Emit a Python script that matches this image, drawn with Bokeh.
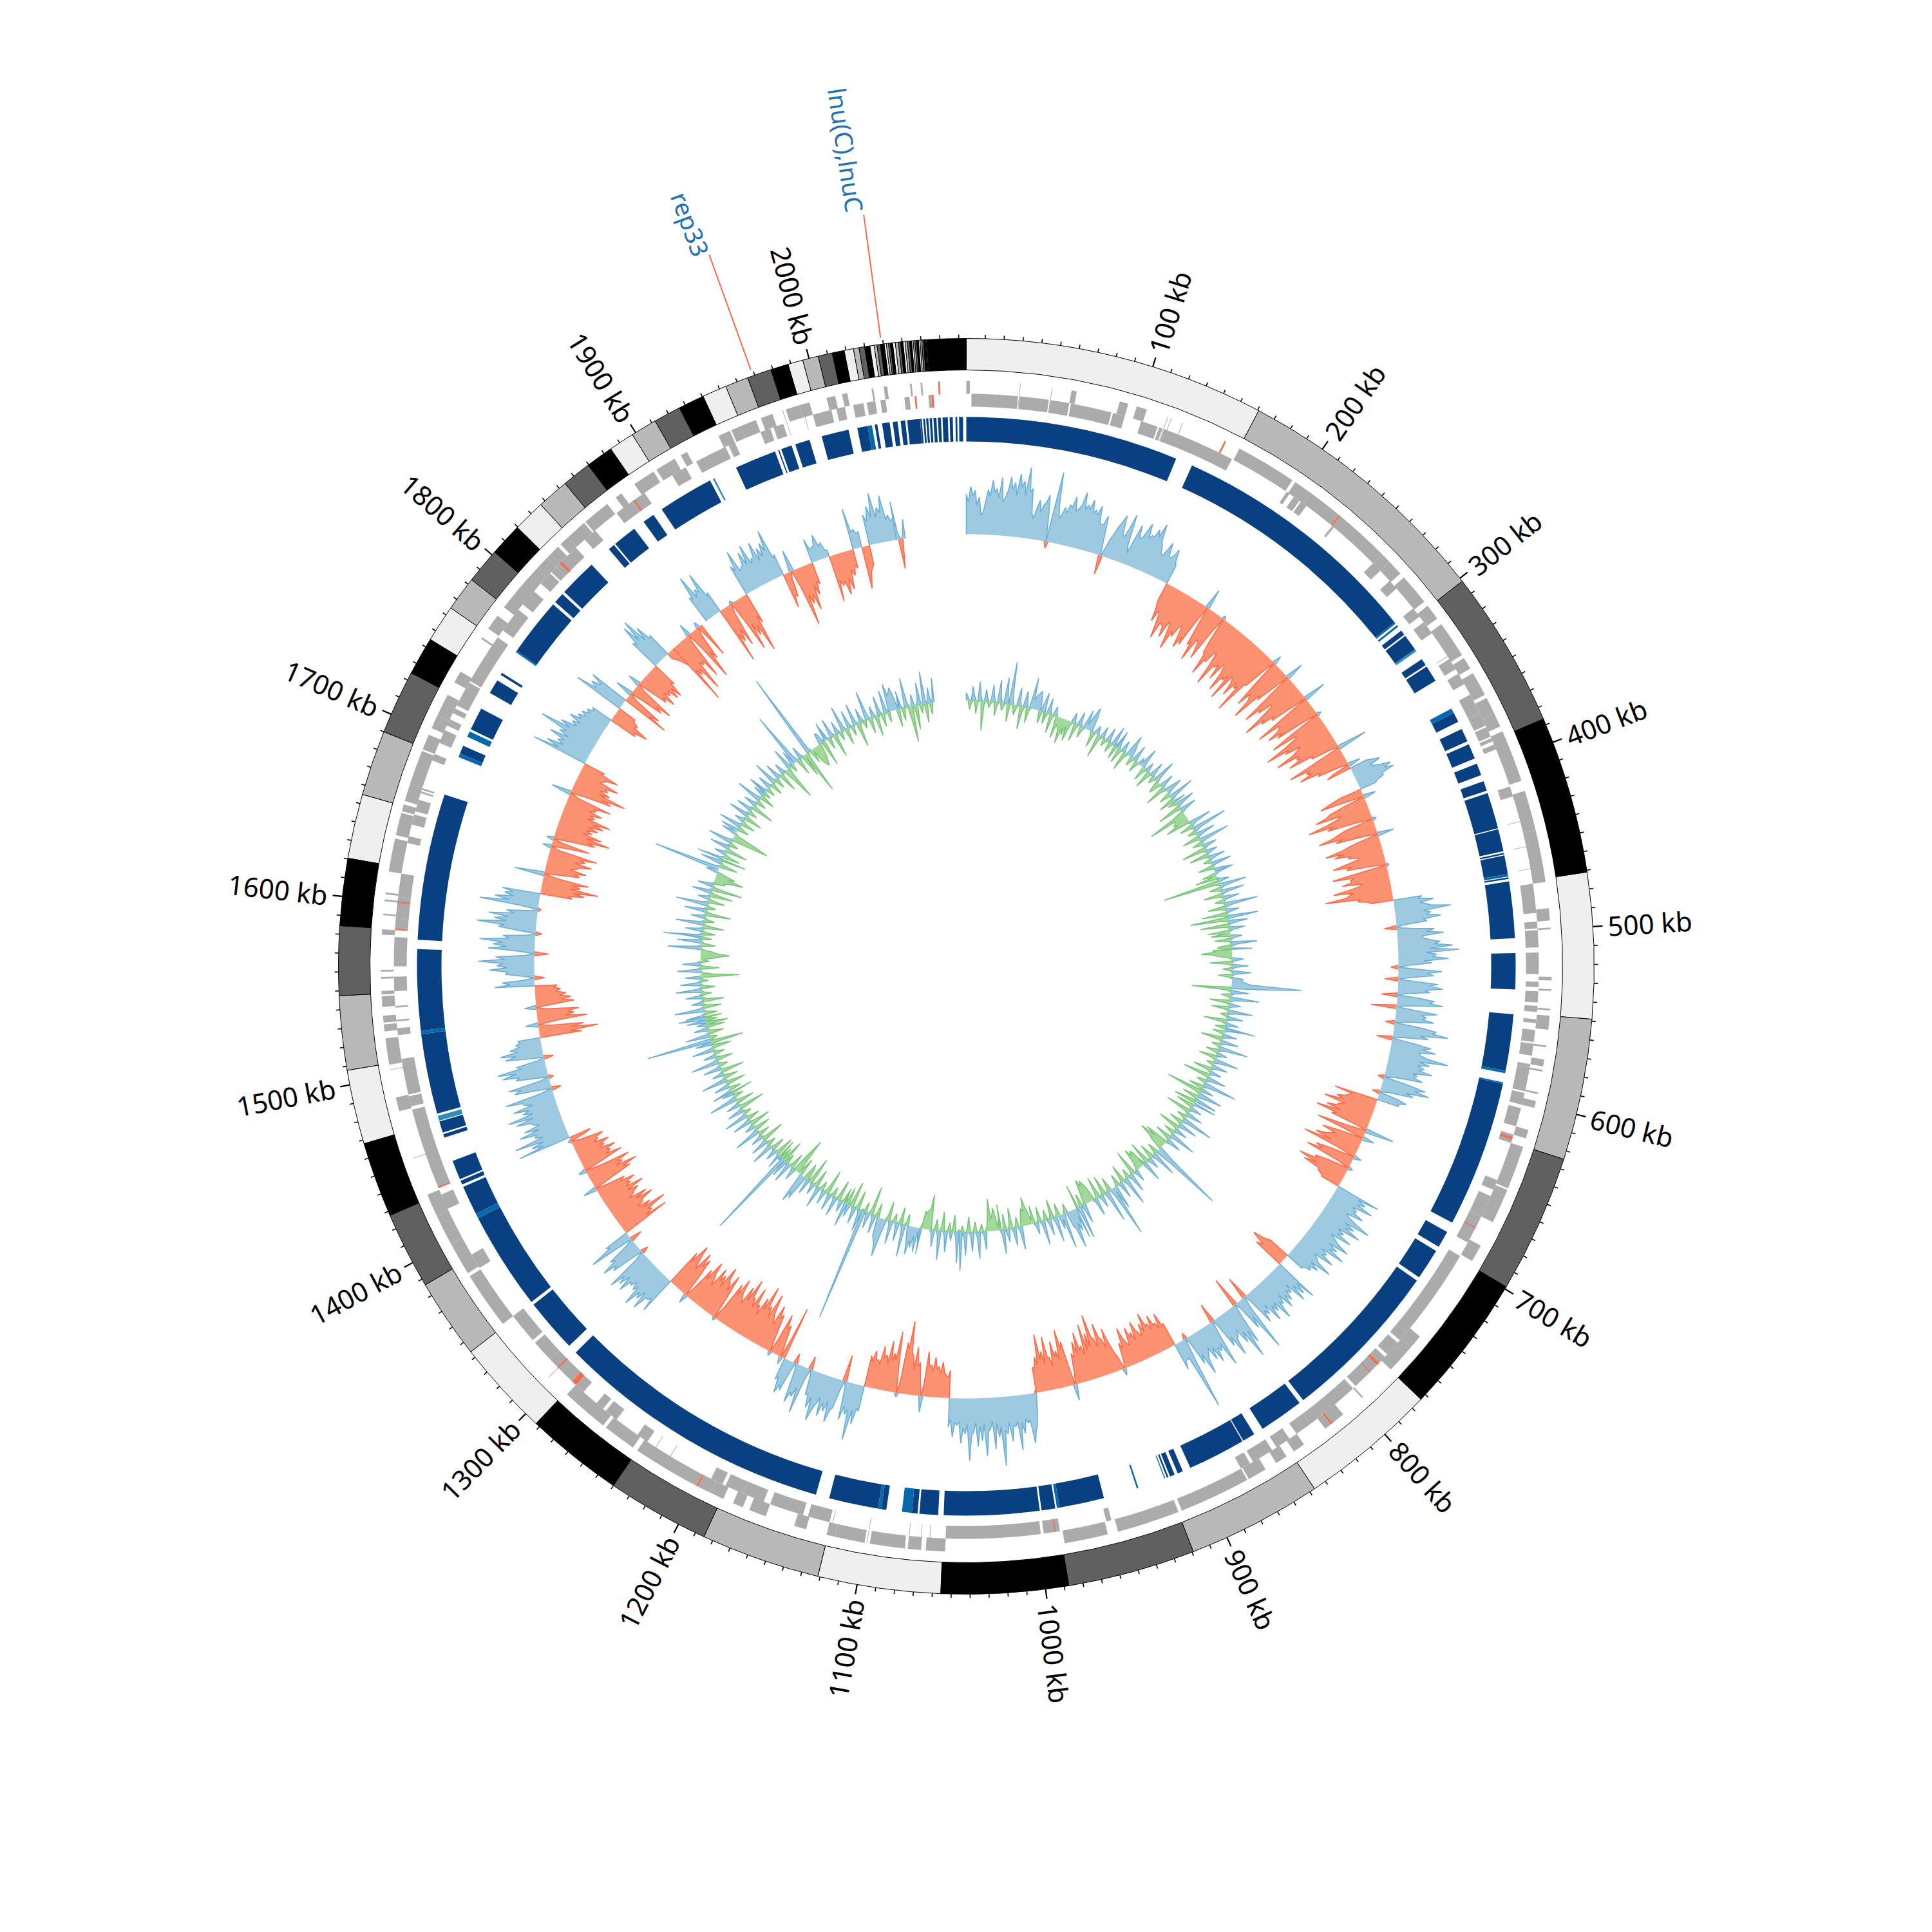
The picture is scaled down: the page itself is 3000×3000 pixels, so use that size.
import numpy as np
from bokeh.plotting import figure
from bokeh.embed import file_html
from bokeh.resources import INLINE
from bokeh.core.properties import value

GENOME_KB = 2084
tick_major_kb = list(range(100, 2001, 100))
tick_minor_kb = [k for k in range(10, 2081, 10) if k % 100]
tick_labels = [f"{k} kb" for k in tick_major_kb]

contig_ends = [160.7,302,386.7,471,549,624.6,698.7,773.4,847,919.3,987.6,1055.5,1121.2,1185,1240,1292.4,1343.7,1386.5,1427.7,1468,
 1507.8,1547.5,1584.5,1620.4,1655,1690,1724.3,1744.6,1764.5,1783,1802,1819.7,1837,1854,1869.6,1884.3,1898,1912,1926.6,1940.5,
 1953.6,1966,1979,1988.5,1996.6,2005,2012.6,2019,2024,2027,2030,2032.8,2035.1,2036.6,2038.4,2040.4,2041.6,2042.7,2043.7,2044.9,
 2046.4,2048,2049.2,2050.4,2051.6,2052.8,2054,2055,2055.9,2056.8,2057.7,2058.6,2059.5,2060.4,2061.4,2062.0,2062.4,2062.7,2063.2,2084]
contig_palette = ["#efefef", "#b9b9b9", "#606060", "#000000"]

cds_dark = [(0,130),(140.4,296.5),(303,306),(307,317),(324.2,328.5),(329.5,339.6),(362,368),(372.8,381),(383,392.3),(395.6,403),(407,413),
 (414.6,436.7),(437.3,451),(452,453),(453.6,465),(467,468),(469.5,504),(513,535),(550,584.5),(592.5,682),(688.4,698.7),(701.7,720.7),
 (723,823),(825.8,853),(859,866.7),(867.3,902.7),(907.6,911),(913,916),(917,918),(958,985.4),(988,996.4),(997.5,1055.7),(1059,1070.4),
 (1071.5,1075),(1090.5,1093.7),(1095.6,1125.7),(1134,1304.4),(1310,1343),(1345,1405),(1408,1426),(1427.5,1430),(1431,1442.9),(1457.8,1460),
 (1461,1468),(1473,1522),(1524,1573.4),(1579,1668.5),(1695,1700),(1711,1725),(1735.8,1744.6),(1748.5,1750),(1766,1801.6),(1803.5,1810),
 (1811.6,1835),(1849,1853),(1854,1868.7),(1875.7,1883),(1889,1923),(1940.5,1966),(1968,1968.7),(1970,1976.6),(1979,1988),(1995.6,2012.3),
 (2017.7,2024),(2028.4,2030),(2032.9,2037.5),(2039.4,2042.3),(2044.2,2047),(2048.2,2056),(2056.1,2057),(2057.9,2059),(2059.7,2061),(2061.8,2063.2),
 (2064.1,2065.9),(2066.8,2068.6),(2069.6,2072.8),(2073.9,2075.8),(2077.4,2078.5),(2079.6,2082)]
cds_mid = [(296.5,297.5),(298.8,300),(359,362),(465,466.5),(584.5,586),(591.6,592.5),(936.3,937.3),(985.4,987),(1075,1081),(1093.7,1095.6),
 (1405,1408),(1522,1524),(1692.7,1695),(1706,1709.5),(1765,1766),(2024,2026.7)]
cds_light = [(317,318.4),(919,919.7),(1468.5,1471.5),(1925,1926)]

genes_inner = [(3,30),(31,48),(49,60),(61,85),(86,93),(103,113),(114,116),(117,160),(197,199),(202,206),(207,211),(230,231),(262,268),(276,282),
 (297,303),(307,315),(333,340),(343,350),(357,369),(369,377),(378,384),(385,387),(389,392),(415,421),(473,490),(495,499),(500,510),(513,525.5),
 (530,533),(535.5,542),(544,547.5),(551.7,554),(558,565),(566,573),(578,580),(580,594),(595,602),(604,615),(620,625),(648,654),(658,671),(671,688),
 (697,751),(751,757),(759,768),(770,794),(796,813),(813,819),(819,828),(828,838),(843,852),(855,868),(870,876),(957,960),(987.5,997),(998.7,1054),
 (1122,1135),(1138,1158),(1162,1175),(1175,1186),(1188,1195),(1238,1245),(1260,1268),(1270,1275),(1285,1291),(1294,1302),(1302,1312),(1312,1325),
 (1327,1338),(1337,1345),(1379,1388),(1418,1427),(1431,1479),(1481,1487),(1488,1509),(1523,1527),(1531,1532),(1539,1540),(1548.6,1557),(1563,1580),
 (1584.6,1591),(1591,1603),(1603,1617),(1635,1639),(1646,1652),(1654,1661),(1665,1666),(1667,1668),(1685,1689),(1696,1704),(1707,1711),(1715,1718),
 (1720,1735),(1736,1766),(1771,1786),(1790,1800),(1806,1814),(1815,1819),(1819,1835),(1842,1850),(1866,1877),(1877,1886),(1905,1914),(1921,1940),
 (1942,1946),(1962,1968),(1970,1976),(1994,2005),(2008,2013),(2018,2024),(2026,2031),(2034,2037),(2048,2051),(2062,2063.7)]
genes_outer = [(0,2),(60,63),(88,93),(98,104),(161,196),(198,209),(209,229),(230,262),(262,268),(268,277),(280,298),(301,310),(314,335),(337,344),
 (347,361),(363,373),(373,381),(384,414),(420,443),(443,473),(488,495),(499,500),(527,529),(534,535),(545,546),(549,557),(566,567),(574,578),(580,581),
 (593,594),(598,602),(615,620),(625,650),(651,671),(686,696),(748,756),(756,762),(762,773),(795,796),(810,818),(816,823),(838,845),(850,857),(864,875),
 (876,917),(919,955),(961,986),(1054,1065),(1067.7,1075),(1077,1097),(1100,1117),(1117,1122),(1134,1141),(1158,1168),(1172,1178),(1184,1192),(1192,1200),
 (1201,1240),(1243,1262),(1264,1276),(1274,1291),(1345,1378),(1380,1399),(1399,1410),(1408,1417),(1417,1425),(1424,1430),(1480,1488),(1507,1522),(1526,1530),
 (1531,1535),(1540,1546),(1547,1549),(1556,1557),(1560,1561),(1581,1584),(1592,1593),(1600,1601),(1604,1605),(1617,1636),(1638,1647),(1646,1651),(1652,1656),
 (1658,1668),(1668,1671),(1670,1688),(1689,1698),(1702,1710),(1710,1718),(1717,1723),(1731,1738),(1760,1761),(1767,1776),(1782,1796),(1793,1803),(1800,1811),
 (1811,1819),(1819,1822),(1822,1828),(1830,1836),(1836,1848),(1849,1865),(1871,1875),(1884,1897),(1899,1908),(1908,1911),(1915,1919),(1939,1946),(1947,1953),
 (1953,1962),(1965,1972),(1980,1988),(1988,1994),(2004,2009),(2013,2016),(2030,2031),(2037,2039),(2052,2053),(2058,2059)]
genes_span = [30.5,48.7,116.5,118.5,125.5,231,331,436,451,464,1063,1068,1075,1098.5,1120,1195,1222,1232,1305,1452,1504,1760,1978,1989]
red_inner = [(621.5,623),(678,678.6),(775,776.5),(782,782.5),(990,990.6),(1291,1294),(1305,1305.8),(1431,1431.8),(1584,1584.8),(1600,1600.8),(1822,1823.5),(1878,1879),(2054,2055),(2063.7,2065)]
red_outer = [(151.5,152.5),(229,230),(818,819),(1200,1201),(2068,2069)]

outer_starts = [0,160,363,381,470,625,698,764,773,875,988,1055,1121,1186,1292,1342.5,1428,1508,1548,1619,1725,1764,1775,1783,1818,1831,1837,1870,1883,1907,1939,1963,1977,1996,2003,2009,2030]
outer_ends = [160,363,381,470,625,698,764,773,875,988,1055,1121,1186,1292,1342.5,1428,1508,1548,1619,1725,1764,1775,1783,1818,1831,1837,1865,1883,1907,1939,1963,1977,1996,2003,2009,2030,2037]
outer_values = [
 [62,50,74,60,68,45,58,30,35,52,70,60,85,66,72,58,90,52,60,70,92,72,84,64,98,78,88,66,110,72,78,40,32,48,62,44,55,60,72,40,-10,55,111,60,40,46,58,50,64,60,78,56,60,66,88,62,70,64,80,60,66,58,74,50,45,48,62,30,-30,10,28,38,52,60,72,42,40,55,78,30,18,44,66,46,48,60,74,52,58,56,70,60,82,56,50,38,35,46,60,40,38,44,55,36,30],
 [-30,-42,-62,-44,-48,-66,-85,-58,-60,-62,-78,-50,-55,-70,-92,-60,-68,-50,-45,-60,-80,-60,-72,-30,32,-35,-65,-58,-88,-50,-52,-62,-78,-25,6,-40,-60,-62,-95,-68,-70,-52,-48,-70,-102,-66,-68,-60,-85,-55,-58,-70,-98,-70,-75,-64,-105,-60,-64,-70,-90,-62,-72,-66,-110,-56,-55,-20,14,-48,-84,-60,-66,-72,-100,-52,-58,-30,29,-50,-92,-65,-70,-48,-48,-74,-105,-70,-78,-56,-62,-30,36,-55,-95,-58,-60,-66,-85,-60,-72,-25,7,-58,-88,-46,-50,-72,-106,-68,-76,-50,-58,-68,-98,-60,-66,-60,-82,-42,-45,-10,47,-50,-90,-58,-64,-56,-78,-44,-50,-15,20,-30,-40],
 [28,38,48,30,35,46,60,48,62,40,42,30,25],
 [-35,-55,-70,-30,20,-38,-60,-66,-85,-44,-50,-70,-101,-60,-72,-30,6,-45,-58,-68,-92,-54,-66,-20,26,-30,-48,-62,-88,-60,-75,-50,-55,-40,-40,-64,-82,-52,-62,-20,4,-50,-87,-52,-60,-58,-74,-42,-48,-66,-90,-58,-66,-72,-105,-50,-55,-40,-35],
 [45,38,62,40,50,58,87,44,55,48,70,42,48,10,-19,22,58,46,72,38,40,50,66,56,85,50,95,44,60,52,78,40,52,18,-12,30,68,44,55,20,-21,28,62,48,70,42,50,15,-25,35,58,50,72,18,-40,32,64,40,48,42,60,20,-15,40,66,60,85,42,55,12,-25,36,62,48,70,44,48,60,92,48,65,46,58,50,72,42,50,44,60,15,-10,42,68,52,75,40,52,12,-12,30,45,33,35],
 [-69,-40,-45,-50,-62,-50,-80,-45,-55,-56,-72,-48,-87,-52,-60,-20,45,-30,-78,-35,19,-40,-65,-42,-50,-56,-71,-44,-88,-30,12,-40,-62,-50,-75,-20,7,-36,-55,-50,-79,-48,-68,-40,-40,-32,-30],
 [71,38,52,40,68,36,45,42,60,34,40,55,80,40,58,44,72,36,48,40,65,32,42,50,70,38,55,44,72,34,46,40,62,30,38,42,68,34,50,36,42,30,30],
 [-35,-45,-63,-40,-50],
 [71,40,58,38,65,30,44,36,52,40,60,34,48,42,69,36,50,38,62,30,45,36,55,10,-36,20,92,32,50,10,-48,22,66,44,88,40,58,32,42,44,70,36,50,10,-31,30,74,36,46,38,60,34,52,30,38,44,69,34,48,10,-10,40,115,28,30,30,43],
 [-38,-36,-58,-35,-45,-42,-60,-38,-50,-46,-69,-40,-55,-36,-42,-48,-63,-34,-48,-40,-58,-30,-35,-44,-62,-30,-40,-10,11,-20,-30,-46,-70,-40,-55,-58,-82,-46,-60,-64,-100,-50,-72,-46,-88,-40,-55,-50,-78,-48,-65,-40,-48,-15,25,-30,-70,-60,-90,-44,-58,-50,-74,-36,-50,-52,-84,-42,-62,-50,-90,-42,-55,-38,-40],
 [-6,30,50,60,77,40,45,38,60,42,85,40,48,46,70,40,58,52,107,46,62,40,80,36,48,52,90,40,66,44,75,38,52,58,97,40,55,46,70,36,42,38,60,32,45],
 [-43,-32,-35,-40,-55,-38,-48,-44,-62,-40,-50,-46,-70,-20,25,-25,-52,-46,-75,-40,-60,-66,-114,-70,-80,-20,7,-40,-95,-50,-60,-48,-78,-42,-55,-50,-68,-38,-45,-44,-58,-40,-49],
 [40,36,62,40,89,42,50,38,60,10,-41,15,45,50,70,38,55,42,64,36,48,58,76,40,58,36,40,10,-21,20,74,34,50,44,62,10,-16,18,48,40,55,30,35],
 [-84,-30,12,-25,-50,-42,-65,-20,7,-30,-60,-52,-72,-40,-48,-58,-85,-44,-62,-56,-92,-52,-70,-40,-55,-50,-80,-46,-60,-58,-88,-50,-72,-42,-50,-56,-78,-48,-66,-20,5,-44,-73,-46,-58,-60,-80,-44,-62,-50,-70,-36,-48,-55,-73,-40,-55,-15,15,-40,-65,-50,-72,-40,-50,-62,-77,-44,-60],
 [61,40,45,44,68,40,55,46,72,42,50,38,48,44,64,40,58,46,70,15,-12,20,52,44,66,40,48,12,-19,30,71,34,40],
 [-77,-42,-55,-50,-83,-46,-60,-38,-50,-52,-72,-44,-65,-36,-45,-48,-58,-40,-70,-42,-52,-46,-62,-38,-48,-20,21,-30,-66,-54,-79,-46,-58,-50,-72,-25,12,-35,-66,-40,-50,-44,-60,-36,-45,-40,-55,-32,-40,-38,-51,-15,5,-25,-35],
 [84,42,60,40,85,38,50,46,72,40,62,36,45,48,70,42,81,40,55,44,68,36,48,50,76,20,-15,25,58,46,66,15,-8,24,50,44,70,48,76,38,45,10,-15,30,60,42,66,38,50,34,40,32,35],
 [-66,-48,-92,-50,-70,-20,20,-30,-78,-44,-58,-48,-66,-15,18,-30,-60,-40,-55,-38,-48,-32,-40,-30,-35],
 [62,38,50,15,-16,20,45,40,70,42,58,48,87,46,60,15,-22,25,72,44,65,50,86,40,50,10,-10,28,58,50,92,46,66,44,75,36,48,12,-5,30,92,46,70,40,55,42,60],
 [-50,-42,-68,-50,-89,-44,-60,-48,-72,-20,47,-25,-55,-46,-64,-38,-48,-50,-70,-42,-58,-50,-75,-15,14,-25,-60,-15,11,-30,-65,-52,-87,-48,-72,-40,-55,-44,-62,-46,-69,-52,-78,-40,-50,-42,-60,-38,-48,-44,-70,-15,31,-25,-66,-50,-86,-42,-58,-40,-52,-46,-67,-34,-40,-42,-60,-30,-35],
 [89,48,70,44,55,46,72,42,60,50,96,48,65,40,50,38,58,40,48,36,45,34,40,30,35],
 [-45,-40,-62,-36,-40,-30,-30],
 [81,48,60,44,65],
 [-76,-44,-60,-15,28,-20,-55,-44,-68,-15,20,-25,-50,-42,-62,-38,-48,-40,-58,-42,-60,-34,-40],
 [50,44,75,46,81,40,62,36,40],
 [-10,-20,-35],
 [-103,-48,-60,-50,-90,-42,-50,-44,-75,-15,20,-30,-85,-40,-55,-15,10,-25,-56],
 [45,40,77,38,50,44,73,30,35],
 [-91,-46,-60,-40,-70,-15,5,-35,-85,-44,-65,-50,-95,-36,-50],
 [50,40,71,36,40,42,62,40,70,38,45,44,68,36,55,40,60,46,78,30,35],
 [-55,-36,-40,-10,34,-30,-92,-44,-60,-46,-72,-34,-50,-30,-35],
 [38,20,22,24,40,20,25,12,10],
 [-73,-40,-50,-44,-66,-42,-60,-30,-40,-25,-30],
 [65,26,30,22,25],
 [-66,-40,-30],
 [48,36,60,42,79,40,55,46,72,34,40,30,35],
 [60,10,-46,5,30],
]

inner_starts = [0,100,200,300,400,500,600,700,800,900,1000,1100,1200,1300,1400,1500,1600,1700,1800,1900,2000]
inner_ends = [100,200,300,400,500,600,700,800,900,1000,1100,1200,1300,1400,1500,1600,1700,1800,1900,2000,2044]
inner_values = [
 [12,6,-14,-5,22,8,-20,-4,30,6,-46,-6,18,5,-10,-4,26,8,-22,-6,35,10,-12,-5,40,12,-28,66,14,-6,-16,-5,28,6,-36,-8,25,10,-24,-5,48,14,22,26,30,18,-20,15,30,-18],
 [-18,-5,24,6,-30,-6,14,5,-35,-12,-16,-22,-40,-14,-25,-10,-32,-6,16,5,-28,-6,22,6,-18,-5,30,8,24,38,25,-6,-24,6,14,5,-36,-6,18,4,-12,-4,22,6,-16,-5,30,6,-22,26],
 [28,8,-24,-5,18,6,-30,-6,35,20,14,-14,-5,26,6,-18,-4,12,5,32,8,-22,-5,15,4,-28,-6,24,6,-12,-4,36,8,-16,-20,-5,22,6,-34,-6,14,28,6,-18,-5,40,8,-26,-6,18],
 [-14,-5,30,6,-38,-6,26,6,-20,-62,-18,-20,-25,-18,-40,-6,35,8,-22,-5,55,10,-14,-4,30,6,-28,-5,48,8,-16,-4,22,6,-38,-6,18,5,-30,-5,26,6,-12,-4,32,6,-24,-5,16,28],
 [30,6,-22,-6,-35,5,18,-89,-10,42,8,-18,-5,36,6,-30,-6,25,5,-15,-4,52,10,-28,-5,20,5,-40,-6,48,-59,-12,30,6,-45,-6,24,5,-35,-8,-30,18,5,-26,-5,40,8,-20,-22,32],
 [-30,-25,-48,-28,-22,-6,18,5,-35,-6,25,5,-15,-4,30,6,-22,-5,18,14,20,30,109,60,-61,-8,28,6,-15,-4,45,8,-32,-6,18,5,-28,-5,38,8,-12,-4,25,5,-36,-6,20,5,-16,48],
 [32,6,-18,-4,22,5,-34,-6,28,6,-14,-4,45,8,-20,-5,16,4,-28,-5,38,8,-12,-4,24,5,-30,-6,18,4,-42,-6,30,6,-16,-4,52,10,-24,-5,20,-57,-8,38,14,-26,-5,34,-20,-35],
 [36,6,-28,-5,18,4,-40,-6,26,5,-15,-4,50,8,-22,-5,30,6,-34,-6,20,5,-18,-4,42,8,-26,-5,24,5,-38,-20,-45,-28,-20,28,115,30,-18,-5,40,8,-24,-5,18,4,-35,-6,32,-14],
 [-25,-30,-22,-35,-14,-5,18,4,-40,-6,30,6,-15,-4,45,8,-28,-5,26,5,-18,-4,38,8,81,12,-22,-5,50,8,-30,-6,20,5,-34,-6,28,5,-22,-30,-36,-28,-40,-22,30,6,-20,52,8,-38],
 [48,12,35,22,60,30,22,-15,-4,55,8,22,-20,-5,40,8,-30,-6,26,5,-16,-4,38,6,-24,-5,18,4,-28,-6,-18,-30,-44,-22,-28,-16,36,6,-16,-4,28,6,-32,-6,20,5,-24,38,6,-40],
 [-18,-5,-22,-35,-25,-18,-50,-20,-6,28,5,-12,-4,42,8,-16,-4,30,6,-24,-5,36,6,-10,60,-4,48,8,-26,-5,14,-14,-4,32,6,-30,-6,45,8,-18,-4,26,5,-55,-32,-30,-24,-28,-6,40],
 [26,6,38,14,32,22,44,18,-18,-4,50,8,-26,-5,28,5,-14,-4,36,6,-30,-6,22,60,42,35,30,-22,-5,28,5,-45,-6,24,5,-16,177,-4,34,6,-30,-5,26,5,-40,-6,20,-28,38,-18],
 [-24,-5,18,4,-32,-6,30,5,-16,-4,26,5,-38,-6,22,4,-14,-3,34,6,-28,-5,18,4,-42,-6,24,-20,-26,40,30,48,-28,-5,-18,-58,-34,20,5,-24,-5,32,6,-16,28,-36,143,-20,6,-30],
 [24,5,-30,-6,18,4,-22,-5,35,6,-14,-4,28,5,-36,-6,20,4,-18,-4,42,8,-26,-5,16,4,-32,-6,30,5,-20,-4,38,6,-12,-3,26,5,-40,-6,22,4,-28,-5,45,8,-16,-4,18,-34],
 [32,6,-18,-4,24,5,-30,-6,40,6,-22,-5,18,4,-36,-6,28,5,-14,-4,44,8,-26,-5,20,4,-16,-4,34,6,-30,-5,26,-51,102,-6,-12,38,6,-24,-5,22,4,-28,16,-34,30,-18,42,-26],
 [30,5,-20,-4,46,8,-28,-5,18,4,-34,-6,26,5,-16,-4,40,6,-22,-5,32,6,-12,-3,24,-60,-18,-4,36,6,-30,-5,28,5,-14,-4,-20,-30,-45,-25,-18,-4,52,6,-22,-5,38,6,-16,30],
 [60,8,-20,-4,28,5,-32,-6,44,6,-16,-4,22,4,-40,-6,34,5,-14,-3,50,8,-26,-5,18,4,-36,-6,30,5,-48,-6,24,4,-18,-15,-25,-45,-20,-30,-14,20,5,105,8,-28,-5,34,5,-38],
 [42,6,-26,-5,18,4,-34,-6,30,5,-14,-4,38,6,-30,-59,-40,-6,24,5,28,-18,-4,36,5,-22,-5,16,4,-28,-5,32,5,-14,-3,26,4,-36,-6,20,4,-16,-4,40,6,-24,-5,18,-12,30],
 [30,5,-14,-3,22,4,-20,-4,38,6,-16,-3,26,5,-30,-5,18,4,-22,-54,-12,34,5,-12,24,4,87,10,-26,-5,20,4,-36,-6,-68,-8,137,6,-22,-4,-24,-30,-35,-28,-20,18,16,-40,6,30],
 [24,4,-18,-3,30,5,-36,-6,20,4,-14,-3,40,6,-26,-5,28,4,-16,-3,34,5,-38,-6,22,4,-12,-3,46,6,-24,-4,18,3,-32,-5,30,5,-20,-4,36,5,-16,44,24,30,36,22,-28,20],
 [28,5,-20,-4,46,6,-26,-56,18,-6,-38,5,34,-14,-4,50,-30,5,24,-18,6,38],
]

annotation_kb = [2039, 1969]
annotation_text = ["lnu(C),lnuC", "rep33"]
annotation_text_kb = [2035.5, 1966]
annotation_link_r = [1178, 1175]
annotation_text_r = [1184, 1178]

# ---------------------------------------------------------------- drawing
p = figure(width=2984, height=2984, x_range=(-1500, 1484), y_range=(-1484, 1500),
           output_backend="svg", toolbar_location=None, min_border=0)
p.axis.visible = False
p.grid.visible = False
p.outline_line_color = None
p.background_fill_color = "white"

def theta(kb):
    return 2 * np.pi * np.asarray(kb, dtype=float) / GENOME_KB

def xy(kb, r):
    t = theta(kb)
    return np.asarray(r) * np.sin(t), np.asarray(r) * np.cos(t)

def arcs(spans, r0, r1, color, **kw):
    s = np.array([a for a, _ in spans], dtype=float)
    e = np.array([b for _, b in spans], dtype=float)
    p.annular_wedge(x=np.zeros(len(s)), y=np.zeros(len(s)), inner_radius=r0, outer_radius=r1,
                    start_angle=np.pi / 2 - theta(e), end_angle=np.pi / 2 - theta(s), direction="anticlock",
                    fill_color=color, line_color=kw.get("line_color", None), line_width=kw.get("line_width", 0))

# contigs
starts = [0] + contig_ends[:-1]
for i in range(4):
    sp = [(a, b) for j, (a, b) in enumerate(zip(starts, contig_ends)) if j % 4 == i]
    arcs(sp, 926, 975, contig_palette[i], line_color="black", line_width=1)

# ticks
for kbs, r1, w in ((tick_major_kb, 990, 2.2), (tick_minor_kb, 981, 1.6)):
    x0, y0 = xy(kbs, 975)
    x1, y1 = xy(kbs, r1)
    p.segment(x0, y0, x1, y1, line_color="black", line_width=w)

# tick labels
tx, ty = xy(tick_major_kb, 998)
ang = np.pi / 2 - theta(tick_major_kb)
right = np.array(tick_major_kb) < GENOME_KB / 2
p.text(tx[right], ty[right], text=[t for t, f in zip(tick_labels, right) if f], angle=ang[right],
       text_align="left", text_baseline="middle", text_font=value("Noto Sans"), text_font_size="42px", text_color="black")
left = ~right
p.text(tx[left], ty[left], text=[t for t, f in zip(tick_labels, left) if f], angle=ang[left] + np.pi,
       text_align="right", text_baseline="middle", text_font=value("Noto Sans"), text_font_size="42px", text_color="black")

# gene rows
arcs(genes_inner, 869, 889, "#ababab")
arcs(genes_outer, 889, 909, "#ababab")
arcs([(k, k + 0.35) for k in genes_span], 869, 909, "#ababab")
arcs(red_inner, 869, 889, "#fb6a4a")
arcs(red_outer, 889, 909, "#fb6a4a")

# CDS ring
arcs(cds_dark, 815, 853, "#084081")
arcs(cds_mid, 815, 853, "#0868ac")
arcs(cds_light, 815, 853, "#2b8cbe")

def ring(base, starts_, ends_, values_, pos_fill, pos_line, neg_fill, neg_line, width):
    k, v = [], []
    for s, e, vals in zip(starts_, ends_, values_):
        grid = np.linspace(s, e, len(vals))
        k += [s] + list(grid) + [e]
        v += [0] + list(vals) + [0]
    k = np.array(k, dtype=float)
    v = np.array(v, dtype=float)
    for sign, fill, line in ((1, pos_fill, pos_line), (-1, neg_fill, neg_line)):
        part = np.where(sign * v > 0, v, 0.0)
        ox, oy = xy(k, base + part)
        bx, by = xy(k[::-1], np.full(len(k), base))
        p.patch(np.r_[ox, bx], np.r_[oy, by], fill_color=fill, line_color=None)
        xs, ys = [], []
        cur_x, cur_y = [], []
        for i in range(len(k)):
            active = part[i] != 0 or (i + 1 < len(k) and part[i + 1] != 0) or (i > 0 and part[i - 1] != 0)
            if active:
                cur_x.append(ox[i]); cur_y.append(oy[i])
            elif cur_x:
                xs.append(cur_x); ys.append(cur_y); cur_x, cur_y = [], []
        if cur_x:
            xs.append(cur_x); ys.append(cur_y)
        p.multi_line(xs, ys, line_color=line, line_width=width)

ring(671, outer_starts, outer_ends, outer_values, "#9ecae1", "#6baed6", "#fc9272", "#fb6a4a", 1.6)
ring(413, inner_starts, inner_ends, inner_values, "#9ecae1", "#6baed6", "#a1d99b", "#74c476", 1.5)

# annotation links and labels
lx0, ly0 = xy(annotation_kb, 985)
lx1, ly1 = xy(annotation_kb, annotation_link_r)
p.segment(lx0, ly0, lx1, ly1, line_color="#fb6a4a", line_width=2)
ax, ay = xy(annotation_text_kb, annotation_text_r)
p.text(ax, ay, text=annotation_text, angle=np.pi / 2 - theta(annotation_text_kb) + np.pi,
       text_align="right", text_baseline="middle", text_font=value("Noto Sans"), text_font_size="38px", text_color="#2171b5")

open("out.html", "w").write(file_html(p, INLINE))
